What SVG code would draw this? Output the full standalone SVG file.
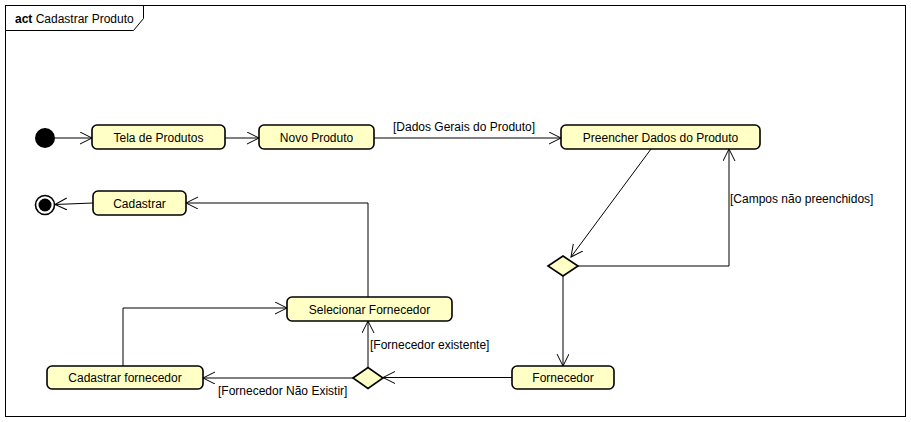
<svg xmlns="http://www.w3.org/2000/svg" width="911" height="422" viewBox="0 0 911 422">
<style>
.node{fill:#ffffc6;stroke:#000;stroke-width:1.6}
.t{font-family:"Liberation Sans",Arial,sans-serif;font-size:12px;fill:#000}
.c{text-anchor:middle}
.e{fill:none;stroke:#000;stroke-width:1}
</style>
<defs>
<marker id="a" markerUnits="userSpaceOnUse" markerWidth="14" markerHeight="14" refX="12" refY="6" orient="auto" viewBox="0 0 14 14">
<path d="M0,0 L12,6 L0,12" fill="none" stroke="#000" stroke-width="1"/>
</marker>
</defs>
<rect x="0" y="0" width="911" height="422" fill="#fff"/>
<g id="frame">
<rect x="5.5" y="5.5" width="900" height="411" fill="none" stroke="#000" stroke-width="1"/>
<path d="M5.5,30.5 H133.5 L143.5,18.5 V5.5" fill="none" stroke="#000" stroke-width="1"/>
<text x="15" y="23" class="t"><tspan font-weight="bold">act</tspan> Cadastrar Produto</text>
</g>
<g id="connectors">
<line x1="55" y1="138" x2="92" y2="138" class="e" marker-end="url(#a)"/>
<line x1="225" y1="138" x2="259" y2="138" class="e" marker-end="url(#a)"/>
<line x1="374" y1="138" x2="561" y2="138" class="e" marker-end="url(#a)"/>
<text x="393" y="131" class="t">[Dados Gerais do Produto]</text>
<line x1="651" y1="149" x2="571" y2="257" class="e" marker-end="url(#a)"/>
<polyline points="578,266 729,266 729,149" class="e" marker-end="url(#a)"/>
<text x="730" y="203" class="t">[Campos não preenchidos]</text>
<line x1="563" y1="276" x2="563" y2="366" class="e" marker-end="url(#a)"/>
<line x1="512" y1="377.5" x2="383" y2="377.5" class="e" marker-end="url(#a)"/>
<line x1="368" y1="367.5" x2="368" y2="321" class="e" marker-end="url(#a)"/>
<text x="370" y="349" class="t">[Fornecedor existente]</text>
<line x1="353" y1="378" x2="203" y2="378" class="e" marker-end="url(#a)"/>
<text x="218" y="395" class="t">[Fornecedor Não Existir]</text>
<polyline points="123,366 123,308 287,308" class="e" marker-end="url(#a)"/>
<polyline points="368,297 368,203 186,203" class="e" marker-end="url(#a)"/>
<line x1="93" y1="203" x2="55" y2="204.5" class="e" marker-end="url(#a)"/>
</g>
<g id="initial"><circle cx="45" cy="138" r="10" fill="#000"/></g>
<g id="final"><circle cx="45" cy="205" r="9.5" fill="#fff" stroke="#000" stroke-width="1.6"/><circle cx="45" cy="205" r="6.5" fill="#000"/></g>
<g id="tela"><rect x="92" y="125" width="133" height="24" rx="5" class="node"/><text x="158.5" y="141.5" class="t c">Tela de Produtos</text></g>
<g id="novo"><rect x="259" y="125" width="115" height="24" rx="5" class="node"/><text x="316.5" y="141.5" class="t c">Novo Produto</text></g>
<g id="preencher"><rect x="561" y="125" width="199" height="24" rx="5" class="node"/><text x="660.5" y="141.5" class="t c">Preencher Dados do Produto</text></g>
<g id="decisao1"><polygon points="548,266 563,256 578,266 563,276" class="node"/></g>
<g id="fornecedor"><rect x="512" y="366" width="102" height="23" rx="5" class="node"/><text x="563" y="382" class="t c">Fornecedor</text></g>
<g id="decisao2"><polygon points="353,378 368,367.5 383,378 368,388.5" class="node"/></g>
<g id="selecionar"><rect x="287" y="297" width="165" height="24" rx="5" class="node"/><text x="369.5" y="313.5" class="t c">Selecionar Fornecedor</text></g>
<g id="cadforn"><rect x="47" y="366" width="156" height="23" rx="5" class="node"/><text x="125" y="382" class="t c">Cadastrar fornecedor</text></g>
<g id="cadastrar"><rect x="93" y="191" width="93" height="24" rx="5" class="node"/><text x="139.5" y="207.5" class="t c">Cadastrar</text></g>
</svg>
